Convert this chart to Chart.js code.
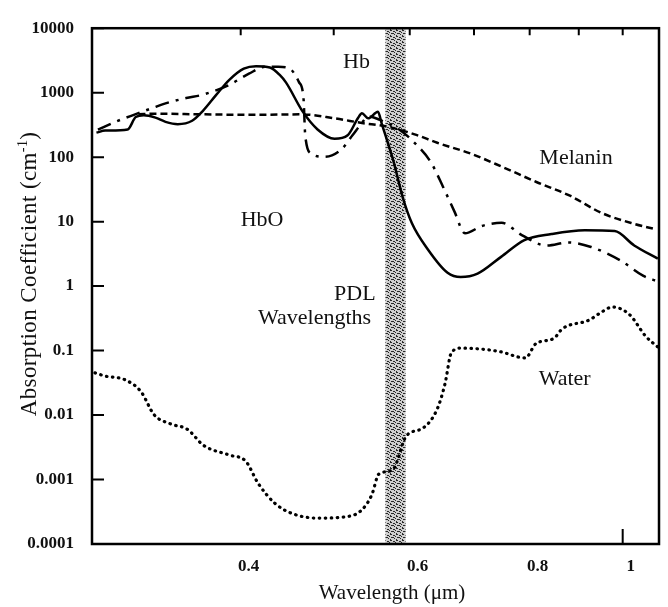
<!DOCTYPE html>
<html>
<head>
<meta charset="utf-8">
<script src="https://cdn.jsdelivr.net/npm/chart.js@4.4.1/dist/chart.umd.min.js"></script>
<style>
html, body { margin: 0; padding: 0; background: #fff; }
canvas { display: block; }
</style>
</head>
<body>
<canvas id="absChart" width="668" height="607"></canvas>
<script>
// wavelength in µm, absorption coefficient in cm^-1
const hboWl = [0.283, 0.289, 0.305, 0.311, 0.317, 0.326, 0.334, 0.344, 0.356, 0.365, 0.377, 0.389, 0.403, 0.415, 0.429, 0.439, 0.446, 0.464, 0.481, 0.501, 0.517, 0.530, 0.535, 0.543, 0.556, 0.561, 0.577, 0.590, 0.603, 0.627, 0.657, 0.678, 0.706, 0.747, 0.790, 0.843, 0.913, 0.981, 1.028, 1.088];
const hboAbs = [240, 258, 269, 419, 446, 410, 353, 325, 367, 514, 915, 1570, 2360, 2580, 2460, 1900, 1430, 512, 269, 193, 219, 404, 479, 400, 505, 331, 87, 23.8, 9.5, 3.67, 1.61, 1.38, 1.56, 2.84, 5.17, 6.42, 7.35, 7.13, 4.27, 2.66];

const hbWl = [0.284, 0.297, 0.311, 0.324, 0.334, 0.351, 0.365, 0.389, 0.408, 0.425, 0.436, 0.449, 0.460, 0.465, 0.467, 0.474, 0.489, 0.509, 0.523, 0.535, 0.543, 0.558, 0.586, 0.606, 0.631, 0.650, 0.668, 0.685, 0.713, 0.748, 0.785, 0.833, 0.878, 0.927, 0.995, 1.051, 1.086];
const hbAbs = [268, 359, 465, 582, 683, 825, 928, 1320, 1970, 2540, 2520, 2400, 1460, 830, 214, 113, 101, 131, 218, 339, 429, 381, 264, 171, 84, 34.5, 14.3, 6.58, 8.54, 9.59, 6.18, 4.25, 4.76, 4.04, 2.49, 1.44, 1.19];

const melaninWl = [0.313, 0.326, 0.367, 0.414, 0.463, 0.501, 0.535, 0.569, 0.607, 0.641, 0.695, 0.751, 0.813, 0.881, 0.952, 1.029, 1.085];
const melaninAbs = [463, 471, 461, 453, 461, 400, 339, 296, 226, 167, 113, 69.5, 41.2, 25.2, 13.5, 9.19, 7.56];

const waterWl = [0.282, 0.289, 0.303, 0.315, 0.325, 0.338, 0.352, 0.366, 0.389, 0.405, 0.417, 0.434, 0.452, 0.481, 0.513, 0.534, 0.548, 0.557, 0.576, 0.595, 0.620, 0.641, 0.653, 0.663, 0.679, 0.742, 0.792, 0.812, 0.848, 0.865, 0.923, 0.946, 0.976, 1.016, 1.057, 1.089];
const waterAbs = [0.0451, 0.0402, 0.0353, 0.0229, 0.0101, 0.0073, 0.0060, 0.00338, 0.0024, 0.00191, 0.000878, 0.00043, 0.000299, 0.000252, 0.000263, 0.00033, 0.000586, 0.00121, 0.00142, 0.00472, 0.00634, 0.0125, 0.0306, 0.0925, 0.109, 0.0975, 0.0769, 0.128, 0.155, 0.217, 0.298, 0.377, 0.473, 0.364, 0.166, 0.112];

const yTicks = [10000, 1000, 100, 10, 1, 0.1, 0.01, 0.001, 0.0001];
const xTicks = [0.4, 0.6, 0.8, 1];
const topTicks = [0.4, 0.5, 0.6, 0.7, 0.8, 0.9, 1];
const pdlBand = [0.566, 0.594];

const curveLabels = ['Hb', 'HbO', 'Melanin', 'PDL', 'Wavelengths', 'Water'];
const labelWl = [0.528, 0.421, 0.894, 0.526, 0.4775, 0.870];
const labelAbs = [2950, 10.5, 97.6, 0.746, 0.3165, 0.0354];

const serif = '"Liberation Serif", "Times New Roman", serif';

const pts = (xs, ys) => xs.map((v, i) => ({ x: v, y: ys[i] }));

// grey stipple for the PDL band
const stipple = document.createElement('canvas');
stipple.width = 6;
stipple.height = 6;
const sctx = stipple.getContext('2d');
sctx.fillStyle = '#cfcfcf';
sctx.fillRect(0, 0, 6, 6);
sctx.fillStyle = '#2a2a2a';
[[0, 0, 2], [3, 1, 2], [1, 3, 3], [4, 4, 1], [0, 5, 1], [5, 2, 1]].forEach(([px, py, w]) => sctx.fillRect(px, py, w, 1));

const decor = {
	id: 'decor',
	beforeDatasetsDraw(chart) {
		const { ctx, chartArea: a, scales: { x } } = chart;
		const x0 = x.getPixelForValue(pdlBand[0]);
		const x1 = x.getPixelForValue(pdlBand[1]);
		ctx.save();
		ctx.fillStyle = ctx.createPattern(stipple, 'repeat');
		ctx.fillRect(x0, a.top, x1 - x0, a.bottom - a.top);
		ctx.restore();
	},
	afterDraw(chart) {
		const { ctx, chartArea: a, scales: { x, y } } = chart;
		ctx.save();
		ctx.strokeStyle = '#000';
		ctx.lineWidth = 2.5;
		ctx.strokeRect(a.left, a.top, a.right - a.left, a.bottom - a.top);

		// inward tick marks
		ctx.lineWidth = 2;
		ctx.beginPath();
		yTicks.forEach(v => {
			const py = y.getPixelForValue(v);
			ctx.moveTo(a.left, py);
			ctx.lineTo(a.left + 12, py);
		});
		topTicks.forEach(v => {
			const px = x.getPixelForValue(v);
			ctx.moveTo(px, a.top);
			ctx.lineTo(px, a.top + 7);
		});
		const p1 = x.getPixelForValue(1);
		ctx.moveTo(p1, a.bottom);
		ctx.lineTo(p1, a.bottom - 15);
		ctx.stroke();

		// curve labels
		ctx.fillStyle = '#111';
		ctx.font = '22px ' + serif;
		ctx.textAlign = 'center';
		ctx.textBaseline = 'middle';
		curveLabels.forEach((t, i) => {
			ctx.fillText(t, x.getPixelForValue(labelWl[i]), y.getPixelForValue(labelAbs[i]));
		});

		// x title
		ctx.font = '21px ' + serif;
		ctx.fillText('Wavelength (μm)', 392, 593);

		// y title with superscript
		ctx.translate(30, 274);
		ctx.rotate(-Math.PI / 2);
		ctx.textAlign = 'left';
		ctx.letterSpacing = '0.4px';
		const main = 'Absorption Coefficient (cm';
		ctx.font = '23px ' + serif;
		const w1 = ctx.measureText(main).width;
		ctx.font = '14px ' + serif;
		const w2 = ctx.measureText('-1').width;
		ctx.font = '23px ' + serif;
		const w3 = ctx.measureText(')').width;
		const start = -(w1 + w2 + w3) / 2;
		ctx.fillText(main, start, 0);
		ctx.font = '14px ' + serif;
		ctx.fillText('-1', start + w1, -7);
		ctx.font = '23px ' + serif;
		ctx.fillText(')', start + w1 + w2, 0);
		ctx.restore();
	}
};

const ctx = document.getElementById('absChart').getContext('2d');
const absChart = new Chart(ctx, {
	type: 'line',
	data: {
		datasets: [
			{
				label: 'HbO',
				data: pts(hboWl, hboAbs),
				borderColor: '#000',
				borderWidth: 2.5,
				pointRadius: 0,
				cubicInterpolationMode: 'monotone'
			},
			{
				label: 'Hb',
				data: pts(hbWl, hbAbs),
				borderColor: '#000',
				borderWidth: 2.5,
				borderDash: [14, 7, 3, 7],
				pointRadius: 0,
				cubicInterpolationMode: 'monotone'
			},
			{
				label: 'Melanin',
				data: pts(melaninWl, melaninAbs),
				borderColor: '#000',
				borderWidth: 2.5,
				borderDash: [7, 4],
				pointRadius: 0,
				cubicInterpolationMode: 'monotone'
			},
			{
				label: 'Water',
				data: pts(waterWl, waterAbs),
				borderColor: '#000',
				borderWidth: 3.2,
				borderDash: [0.5, 5.5],
				borderCapStyle: 'round',
				pointRadius: 0,
				cubicInterpolationMode: 'monotone'
			}
		]
	},
	options: {
		responsive: false,
		animation: false,
		layout: {
			padding: { left: 0, right: 9, top: 14, bottom: 0 }
		},
		plugins: {
			legend: { display: false },
			tooltip: { enabled: false }
		},
		scales: {
			x: {
				type: 'logarithmic',
				min: 0.2807,
				max: 1.091,
				afterBuildTicks: scale => { scale.ticks = xTicks.map(v => ({ value: v })); },
				afterFit: scale => { scale.height = 63; },
				grid: { display: false, drawTicks: false },
				border: { display: false },
				ticks: {
					autoSkip: false,
					maxRotation: 0,
					padding: 12,
					labelOffset: 8,
					color: '#111',
					font: { family: serif, size: 17, weight: 'bold' },
					callback: v => String(v)
				}
			},
			y: {
				type: 'logarithmic',
				min: 0.0001,
				max: 10000,
				afterBuildTicks: scale => { scale.ticks = yTicks.map(v => ({ value: v })); },
				afterFit: scale => { scale.width = 92; },
				grid: { display: false, drawTicks: false },
				border: { display: false },
				ticks: {
					autoSkip: false,
					padding: 18,
					color: '#111',
					font: { family: serif, size: 17, weight: 'bold' },
					callback: v => String(v)
				}
			}
		}
	},
	plugins: [decor]
});
</script>
</body>
</html>
